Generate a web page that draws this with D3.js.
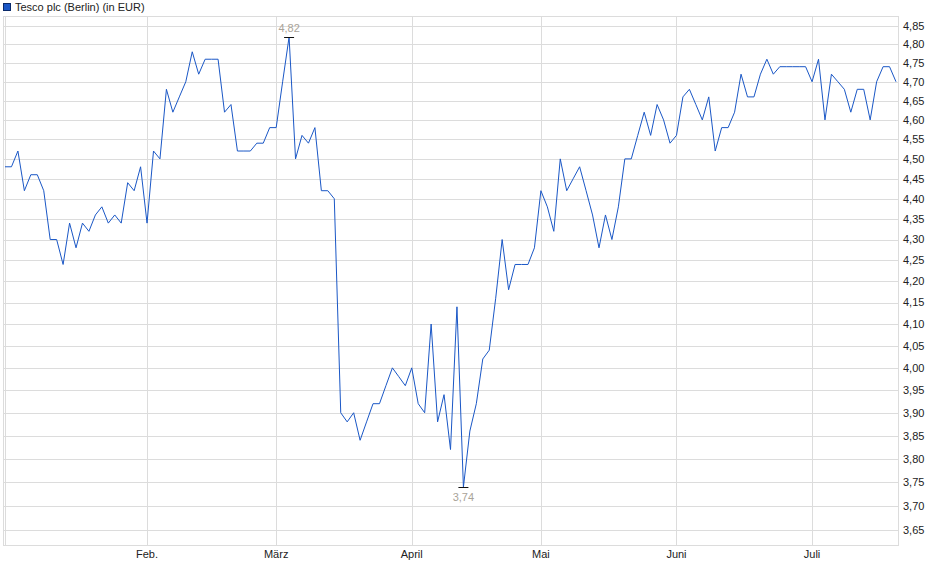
<!DOCTYPE html>
<html>
<head>
<meta charset="utf-8">
<script src="https://cdn.jsdelivr.net/npm/d3@7"></script>
<style>
  body { margin: 0; background: #fff; }
  svg { display: block; font-family: "Liberation Sans", Arial, sans-serif; }
  .grid { stroke: #dcdcdc; stroke-width: 1; shape-rendering: crispEdges; }
  .tick-label { font-size: 11px; fill: #222; }
</style>
</head>
<body>
<svg class="chart"></svg>
<script>
// daily closing prices, Tesco plc at Berlin, in EUR (one per trading day)
const prices = [
	4.48, 4.48, 4.52, 4.42, 4.46, 4.46, 4.42, 4.30, 4.30, 4.24,
	4.34, 4.28, 4.34, 4.32, 4.36, 4.38, 4.34, 4.36, 4.34, 4.44,
	4.42, 4.48, 4.34, 4.52, 4.50, 4.68, 4.62, 4.66, 4.70, 4.78,
	4.72, 4.76, 4.76, 4.76, 4.62, 4.64, 4.52, 4.52, 4.52, 4.54,
	4.54, 4.58, 4.58, 4.70, 4.82, 4.50, 4.56, 4.54, 4.58, 4.42,
	4.42, 4.40, 3.90, 3.88, 3.90, 3.84, 3.88, 3.92, 3.92, 3.96,
	4.00, 3.98, 3.96, 4.00, 3.92, 3.90, 4.10, 3.88, 3.94, 3.82,
	4.14, 3.74, 3.86, 3.92, 4.02, 4.04, 4.16, 4.30, 4.18, 4.24,
	4.24, 4.24, 4.28, 4.42, 4.38, 4.32, 4.50, 4.42, 4.45, 4.48,
	4.42, 4.36, 4.28, 4.36, 4.30, 4.38, 4.50, 4.50, 4.56, 4.62,
	4.56, 4.64, 4.60, 4.54, 4.56, 4.66, 4.68, 4.64, 4.60, 4.66,
	4.52, 4.58, 4.58, 4.62, 4.72, 4.66, 4.66, 4.72, 4.76, 4.72,
	4.74, 4.74, 4.74, 4.74, 4.74, 4.70, 4.76, 4.60, 4.72, 4.70,
	4.68, 4.62, 4.68, 4.68, 4.60, 4.70, 4.74, 4.74, 4.70,
];

// first trading day of each month (index into prices)
const monthIndex = [0, 22, 42, 63, 83, 104, 125];
const monthLabels = ["", "Feb.", "März", "April", "Mai", "Juni", "Juli"];

const yTicks = [
	3.65, 3.7, 3.75, 3.8, 3.85, 3.9, 3.95, 4.0, 4.05, 4.1, 4.15, 4.2, 4.25,
	4.3, 4.35, 4.4, 4.45, 4.5, 4.55, 4.6, 4.65, 4.7, 4.75, 4.8, 4.85,
];

const title = "Tesco plc (Berlin) (in EUR)";
const lineColor = "#1a57c6";

const size = { w: 940, h: 579 };
const frame = { t: 16, r: 898, b: 545, l: 3 };

const svg = d3.select("svg.chart").attr("width", size.w).attr("height", size.h);
const fmt = (v) => d3.format(".2f")(v).replace(".", ",");

const xScale = d3
	.scaleLinear()
	.domain([0, prices.length - 1])
	.range([5, 896]);

const yScale = d3.scaleLog().domain([3.65, 4.85]).range([530.3, 26]);

// horizontal grid
svg
	.append("g")
	.selectAll("line")
	.data(yTicks)
	.join("line")
	.classed("grid", true)
	.attr("x1", frame.l)
	.attr("x2", frame.r)
	.attr("y1", (d) => Math.round(yScale(d)) + 0.5)
	.attr("y2", (d) => Math.round(yScale(d)) + 0.5);

// vertical month lines
svg
	.append("g")
	.selectAll("line")
	.data(monthIndex)
	.join("line")
	.classed("grid", true)
	.attr("x1", (d) => Math.round(xScale(d)) + 0.5)
	.attr("x2", (d) => Math.round(xScale(d)) + 0.5)
	.attr("y1", frame.t)
	.attr("y2", frame.b);

// frame
svg
	.append("rect")
	.classed("grid", true)
	.attr("x", frame.l + 0.5)
	.attr("y", frame.t + 0.5)
	.attr("width", frame.r - frame.l)
	.attr("height", frame.b - frame.t)
	.attr("fill", "none");

// y labels on the right
svg
	.append("g")
	.selectAll("text")
	.data(yTicks)
	.join("text")
	.classed("tick-label", true)
	.attr("x", frame.r + 5)
	.attr("y", (d) => yScale(d))
	.attr("dy", "0.35em")
	.text(fmt);

// month labels
svg
	.append("g")
	.selectAll("text")
	.data(monthIndex)
	.join("text")
	.classed("tick-label", true)
	.attr("x", (d) => xScale(d))
	.attr("y", frame.b + 13)
	.attr("text-anchor", "middle")
	.text((d, i) => monthLabels[i]);

// price line
const line = d3
	.line()
	.x((d, i) => xScale(i))
	.y((d) => yScale(d));

svg
	.append("path")
	.datum(prices)
	.attr("d", line)
	.attr("fill", "none")
	.attr("stroke", lineColor)
	.attr("stroke-width", 1)
	.attr("stroke-linejoin", "miter");

// high / low markers
const hiIdx = d3.maxIndex(prices);
const loIdx = d3.minIndex(prices);
const markers = [
	{ i: hiIdx, v: prices[hiIdx], dy: -5 },
	{ i: loIdx, v: prices[loIdx], dy: 14 },
];

const markG = svg.append("g");
markG
	.selectAll("line")
	.data(markers)
	.join("line")
	.attr("x1", (d) => xScale(d.i) - 5)
	.attr("x2", (d) => xScale(d.i) + 5)
	.attr("y1", (d) => Math.round(yScale(d.v)) + 0.5)
	.attr("y2", (d) => Math.round(yScale(d.v)) + 0.5)
	.attr("stroke", "#111")
	.attr("stroke-width", 1);

markG
	.selectAll("text")
	.data(markers)
	.join("text")
	.attr("x", (d) => xScale(d.i))
	.attr("y", (d) => yScale(d.v) + d.dy)
	.attr("text-anchor", "middle")
	.attr("font-size", 11)
	.attr("fill", "#a9a398")
	.text((d) => fmt(d.v));

// legend / title
svg
	.append("rect")
	.attr("x", 3.5)
	.attr("y", 3.5)
	.attr("width", 7)
	.attr("height", 7)
	.attr("fill", lineColor)
	.attr("stroke", "#0a2a6a");

svg
	.append("text")
	.attr("x", 15)
	.attr("y", 11)
	.attr("font-size", 11)
	.attr("fill", "#222")
	.text(title);
</script>
</body>
</html>
